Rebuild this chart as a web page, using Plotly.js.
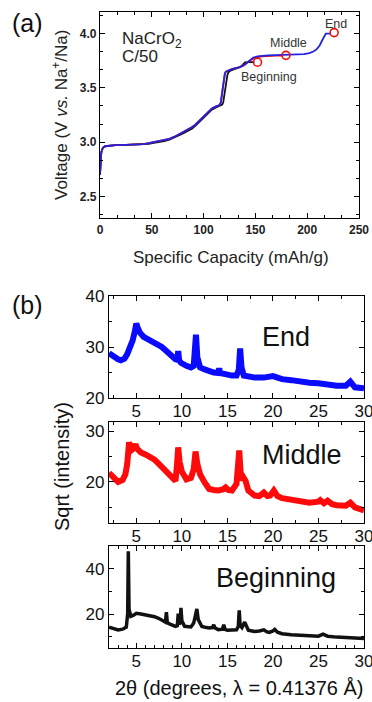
<!DOCTYPE html>
<html><head><meta charset="utf-8">
<script src="https://cdn.plot.ly/plotly-3.0.1.min.js"></script>
<style>html,body{margin:0;padding:0;background:#fff;} #chart{width:372px;height:702px;}</style>
</head><body><div id="chart"></div>
<script>
// ---------- Panel (a): charge curves ----------
const capBeg = [0, 0.3, 0.7, 1.2, 2, 3, 5, 8, 15, 25, 35, 42, 47, 52, 57, 62, 67, 72, 77, 82, 86, 89, 92, 96, 100, 104, 108, 112, 116, 118, 119, 120, 121, 122, 123, 124, 126, 129, 132, 135, 138, 140, 144, 149];
const vBeg   = [2.70, 2.78, 2.85, 2.90, 2.93, 2.95, 2.962, 2.967, 2.972, 2.975, 2.978, 2.98, 2.985, 2.993, 3.0, 3.01, 3.022, 3.04, 3.065, 3.09, 3.11, 3.125, 3.15, 3.19, 3.225, 3.265, 3.30, 3.32, 3.335, 3.345, 3.37, 3.43, 3.50, 3.57, 3.62, 3.645, 3.66, 3.67, 3.68, 3.69, 3.715, 3.735, 3.737, 3.737];

const capMid = [0, 0.3, 0.7, 1.2, 2, 3, 5, 8, 15, 25, 35, 42, 47, 52, 57, 62, 67, 72, 77, 82, 86, 89, 92, 96, 100, 104, 108, 112, 115, 116.5, 117.5, 118.5, 119.5, 120.5, 121.5, 123, 125, 128, 132, 136, 139, 142, 145, 148, 152, 157, 162, 170, 176];
const vMid   = [2.70, 2.78, 2.85, 2.90, 2.93, 2.95, 2.962, 2.967, 2.972, 2.975, 2.978, 2.982, 2.99, 3.0, 3.01, 3.015, 3.03, 3.05, 3.075, 3.10, 3.125, 3.14, 3.16, 3.20, 3.235, 3.28, 3.31, 3.33, 3.34, 3.36, 3.42, 3.50, 3.58, 3.63, 3.65, 3.66, 3.665, 3.675, 3.685, 3.695, 3.71, 3.735, 3.755, 3.772, 3.785, 3.79, 3.795, 3.797, 3.798];

const capEnd = [0, 0.3, 0.7, 1.2, 2, 3, 5, 8, 15, 25, 35, 42, 47, 52, 57, 62, 67, 72, 77, 82, 86, 89, 92, 96, 100, 104, 108, 112, 115, 116.5, 117.5, 118.5, 119.5, 120.5, 121.5, 123, 125, 128, 132, 136, 139, 142, 145, 148, 152, 157, 162, 170, 180, 190, 197, 202, 206, 209, 212, 214, 215.5, 217, 218, 223];
const vEnd   = [2.70, 2.78, 2.85, 2.90, 2.93, 2.95, 2.962, 2.967, 2.972, 2.975, 2.978, 2.982, 2.99, 3.0, 3.01, 3.015, 3.03, 3.05, 3.075, 3.10, 3.125, 3.14, 3.16, 3.20, 3.235, 3.28, 3.31, 3.33, 3.34, 3.36, 3.42, 3.50, 3.58, 3.63, 3.65, 3.66, 3.665, 3.675, 3.685, 3.695, 3.71, 3.735, 3.76, 3.78, 3.79, 3.797, 3.80, 3.802, 3.805, 3.808, 3.812, 3.82, 3.835, 3.855, 3.89, 3.93, 3.96, 3.99, 4.0, 4.0];

const capMark = [152, 179.5, 226];
const vMark   = [3.737, 3.80, 4.01];
const markLabels = ["Beginning", "Middle", "End"];

// ---------- Panel (b): XRD patterns ----------
const ttEnd = [2, 2.5, 3, 3.3, 3.7, 4, 4.3, 4.6, 4.85, 5.0, 5.15, 5.4, 5.8, 6.3, 6.8, 7.3, 7.8, 8.3, 8.8, 9.3, 9.5, 9.6, 9.7, 9.9, 10.5, 11, 11.3, 11.45, 11.55, 11.7, 12, 12.5, 13, 13.5, 14, 14.1, 14.2, 14.6, 15, 15.5, 16, 16.25, 16.4, 16.55, 16.8, 17.3, 18, 19, 19.5, 20, 20.5, 21, 22, 23, 24, 25, 26, 27, 28, 28.5, 29, 30];
const iEnd  = [28.8, 28.1, 27.6, 27.4, 27.7, 28.6, 29.8, 31.3, 33.2, 34.6, 33.8, 32.8, 32.0, 31.5, 31.3, 30.8, 30.0, 29.2, 28.2, 27.6, 27.5, 29.2, 27.4, 26.9, 26.3, 26.0, 26.3, 29.5, 32.4, 28.0, 26.0, 25.6, 25.2, 25.0, 24.9, 25.8, 24.9, 24.7, 24.5, 24.4, 24.4, 25.5, 29.7, 26.0, 24.4, 24.2, 24.0, 24.0, 24.1, 24.3, 24.0, 23.7, 23.5, 23.2, 23.0, 22.9, 22.6, 22.4, 22.4, 23.2, 22.1, 21.9];

const ttMid = [2, 2.5, 3, 3.5, 3.8, 4.0, 4.2, 4.35, 4.5, 4.7, 4.9, 5.1, 5.5, 6, 6.5, 7, 7.5, 8, 8.5, 9, 9.3, 9.45, 9.6, 9.75, 10, 10.5, 11, 11.3, 11.5, 11.7, 12, 12.5, 13, 13.5, 14, 14.5, 14.8, 15.1, 15.5, 16, 16.15, 16.3, 16.45, 16.6, 16.8, 17.0, 17.3, 18, 18.5, 19, 19.4, 19.7, 20.1, 20.5, 21, 22, 23, 24, 25, 25.2, 25.6, 26, 26.5, 27, 28, 28.5, 29, 30];
const iMid  = [21.8, 20.8, 20.0, 20.4, 21.5, 23.5, 27.8, 26.8, 26.3, 26.6, 27.4, 26.5, 25.8, 25.4, 25.0, 24.4, 23.5, 22.5, 21.5, 20.6, 20.2, 23.0, 26.8, 24.0, 22.0, 20.5, 20.8, 22.5, 26.0, 23.5, 21.5, 19.9, 18.6, 18.4, 18.3, 18.5, 18.9, 18.4, 18.3, 19.6, 22.0, 26.2, 22.0, 20.3, 20.8, 20.2, 18.3, 17.3, 17.2, 17.9, 17.2, 17.3, 18.3, 17.2, 16.8, 16.4, 16.2, 15.9, 16.1, 16.4, 15.8, 16.3, 15.6, 15.4, 15.3, 15.9, 15.0, 14.4];

const ttBeg = [2, 2.5, 3, 3.5, 3.9, 4.05, 4.12, 4.2, 4.4, 4.7, 5, 5.5, 6, 6.5, 7, 7.5, 8, 8.2, 8.3, 8.4, 8.7, 9, 9.3, 9.5, 9.6, 9.7, 9.8, 9.9, 10.0, 10.3, 10.7, 11, 11.3, 11.5, 11.65, 11.8, 12.2, 12.7, 13, 13.35, 13.5, 13.65, 14, 14.45, 14.6, 14.75, 15, 15.5, 16, 16.2, 16.3, 16.4, 16.6, 16.9, 17.1, 17.3, 17.7, 18, 18.5, 19, 19.3, 19.6, 20, 20.2, 20.5, 21, 22, 23, 24, 25, 25.5, 26, 27, 28, 29, 30];
const iBeg  = [14.2, 13.6, 13.0, 13.3, 14.2, 20, 47.7, 22, 19.0, 19.5, 20.3, 20.0, 19.6, 19.2, 18.8, 18.0, 17.0, 16.4, 20.8, 16.2, 15.5, 14.8, 14.5, 14.8, 20.2, 15.5, 16, 22.7, 17, 14.6, 14.3, 14.3, 16.0, 20.5, 22.2, 17.5, 14.5, 14.0, 13.8, 14.0, 15.2, 13.8, 13.1, 13.3, 15.2, 13.2, 12.8, 12.9, 13.0, 14.5, 21.6, 15.0, 14.0, 16.4, 14.5, 12.8, 12.5, 12.3, 12.5, 13.0, 12.2, 11.9, 12.5, 13.2, 12.0, 11.3, 10.8, 10.6, 10.2, 10.2, 11.1, 10.2, 9.8, 9.5, 9.3, 9.2];

const FONT = "Liberation Sans, Arial, sans-serif";

const traces = [
  {x: capBeg, y: vBeg, mode: 'lines', line: {color: '#111', width: 1.8}, xaxis: 'x', yaxis: 'y'},
  {x: capMid, y: vMid, mode: 'lines', line: {color: '#f01010', width: 1.8}, xaxis: 'x', yaxis: 'y'},
  {x: capEnd, y: vEnd, mode: 'lines', line: {color: '#2222e0', width: 1.8}, xaxis: 'x', yaxis: 'y'},
  {x: capMark, y: vMark, mode: 'markers', marker: {symbol: 'circle-open', size: 8, color: '#f01010', line: {width: 1.6, color: '#f01010'}}, xaxis: 'x', yaxis: 'y', cliponaxis: false},
  {x: ttEnd, y: iEnd, mode: 'lines', line: {color: '#0a0aff', width: 6}, xaxis: 'x2', yaxis: 'y2'},
  {x: ttMid, y: iMid, mode: 'lines', line: {color: '#ff0a0a', width: 6}, xaxis: 'x3', yaxis: 'y3'},
  {x: ttBeg, y: iBeg, mode: 'lines', line: {color: '#111', width: 3.5}, xaxis: 'x4', yaxis: 'y4'}
];

function axB(extra) {
  return Object.assign({
    showline: true, linecolor: '#000', linewidth: 1.2, mirror: 'allticks',
    ticks: 'inside', ticklen: 5, tickcolor: '#000', tickwidth: 1,
    showgrid: false, zeroline: false, ticklabeloverflow: 'allow',
    tickfont: {family: FONT, size: 17, color: '#111'}
  }, extra);
}

const xb = {range: [2, 30], dtick: 5, tick0: 0, ticklabelstandoff: -3};
const layout = {
  width: 372, height: 702,
  margin: {l: 0, r: 0, t: 0, b: 0},
  paper_bgcolor: '#fff', plot_bgcolor: '#fff',
  showlegend: false,
  xaxis: {
    domain: [100/372, 359/372], anchor: 'y', range: [0, 250], dtick: 50, tick0: 0,
    showline: true, linecolor: '#000', linewidth: 1.2, mirror: 'allticks',
    ticks: 'inside', ticklen: 5, tickcolor: '#000', showgrid: false, zeroline: false,
    minor: {dtick: 50/3, ticks: 'inside', ticklen: 3, tickcolor: '#000', showgrid: false},
    tickfont: {family: FONT, size: 12, color: '#222', weight: 'bold'}
  },
  yaxis: {
    domain: [1 - 218/702, 1 - 12/702], anchor: 'x', range: [2.3, 4.2], dtick: 0.5, tick0: 2.5, tickformat: '.1f',
    showline: true, linecolor: '#000', linewidth: 1.2, mirror: 'allticks',
    ticks: 'inside', ticklen: 5, tickcolor: '#000', showgrid: false, zeroline: false,
    minor: {dtick: 0.5/3, ticks: 'inside', ticklen: 3, tickcolor: '#000', showgrid: false},
    tickfont: {family: FONT, size: 12, color: '#222', weight: 'bold'}
  },
  xaxis2: axB(Object.assign({domain: [109/372, 364/372], anchor: 'y2', minor: {dtick: 2.5, ticks: 'inside', ticklen: 3, tickcolor: '#000'}}, xb)),
  yaxis2: axB({domain: [1 - 398/702, 1 - 296/702], anchor: 'x2', range: [20, 40], dtick: 10, minor: {dtick: 5, ticks: 'inside', ticklen: 3, tickcolor: '#000'}}),
  xaxis3: axB(Object.assign({domain: [109/372, 364/372], anchor: 'y3', minor: {dtick: 2.5, ticks: 'inside', ticklen: 3, tickcolor: '#000'}}, xb)),
  yaxis3: axB({domain: [1 - 523/702, 1 - 422/702], anchor: 'x3', range: [11.9, 31.8], dtick: 10, tick0: 0, minor: {dtick: 5, ticks: 'inside', ticklen: 3, tickcolor: '#000'}}),
  xaxis4: axB(Object.assign({domain: [109/372, 364/372], anchor: 'y4', minor: {dtick: 1, ticks: 'inside', ticklen: 3, tickcolor: '#000'}}, xb)),
  yaxis4: axB({domain: [1 - 648/702, 1 - 546/702], anchor: 'x4', range: [5, 50], dtick: 20, tick0: 0, minor: {dtick: 10, ticks: 'inside', ticklen: 3, tickcolor: '#000'}}),
  annotations: [
    {text: '(a)', xref: 'paper', yref: 'paper', x: 27.5/372, y: 1 - 23/702, xanchor: 'center', yanchor: 'middle', showarrow: false, font: {family: FONT, size: 25, color: '#111'}},
    {text: '(b)', xref: 'paper', yref: 'paper', x: 27.5/372, y: 1 - 305/702, xanchor: 'center', yanchor: 'middle', showarrow: false, font: {family: FONT, size: 25, color: '#111'}},
    {text: 'Voltage (V <i>vs.</i> Na<sup>+</sup>/Na)', xref: 'paper', yref: 'paper', x: 60/372, y: 1 - 115/702, xanchor: 'center', yanchor: 'middle', textangle: -90, showarrow: false, font: {family: FONT, size: 17, color: '#222'}},
    {text: 'Specific Capacity (mAh/g)', xref: 'paper', yref: 'paper', x: 231/372, y: 1 - 257/702, xanchor: 'center', yanchor: 'middle', showarrow: false, font: {family: FONT, size: 17, color: '#222'}},
    {text: 'Sqrt (intensity)', xref: 'paper', yref: 'paper', x: 62/372, y: 1 - 467/702, xanchor: 'center', yanchor: 'middle', textangle: -90, showarrow: false, font: {family: FONT, size: 20, color: '#111'}},
    {text: '2θ (degrees, λ = 0.41376 Å)', xref: 'paper', yref: 'paper', x: 239/372, y: 1 - 688/702, xanchor: 'center', yanchor: 'middle', showarrow: false, font: {family: FONT, size: 20, color: '#111'}},
    {text: 'NaCrO<sub>2</sub>', xref: 'x', yref: 'y', x: 19.3, y: 3.945, xanchor: 'left', yanchor: 'middle', showarrow: false, font: {family: FONT, size: 17, color: '#222'}},
    {text: 'C/50', xref: 'x', yref: 'y', x: 19.3, y: 3.79, xanchor: 'left', yanchor: 'middle', showarrow: false, font: {family: FONT, size: 17, color: '#222'}},
    {text: markLabels[0], xref: 'x', yref: 'y', x: 163, y: 3.60, xanchor: 'center', yanchor: 'middle', showarrow: false, font: {family: FONT, size: 12.5, color: '#333'}},
    {text: markLabels[1], xref: 'x', yref: 'y', x: 182.4, y: 3.91, xanchor: 'center', yanchor: 'middle', showarrow: false, font: {family: FONT, size: 12.5, color: '#333'}},
    {text: markLabels[2], xref: 'x', yref: 'y', x: 227.8, y: 4.09, xanchor: 'center', yanchor: 'middle', showarrow: false, font: {family: FONT, size: 12.5, color: '#333'}},
    {text: 'End', xref: 'x2', yref: 'y2', x: 21.4, y: 32, xanchor: 'center', yanchor: 'middle', showarrow: false, font: {family: FONT, size: 27, color: '#111'}},
    {text: 'Middle', xref: 'x3', yref: 'y3', x: 23.2, y: 25.3, xanchor: 'center', yanchor: 'middle', showarrow: false, font: {family: FONT, size: 27, color: '#111'}},
    {text: 'Beginning', xref: 'x4', yref: 'y4', x: 20.3, y: 35.8, xanchor: 'center', yanchor: 'middle', showarrow: false, font: {family: FONT, size: 27, color: '#111'}}
  ]
};

Plotly.newPlot('chart', traces, layout, {staticPlot: true, displayModeBar: false});
</script>
</body></html>
